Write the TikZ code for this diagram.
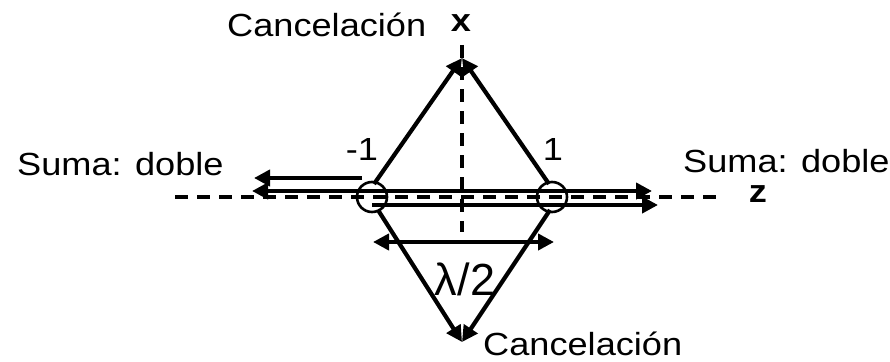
\documentclass[tikz,border=0pt]{standalone}
\usepackage{fontspec}
\setmainfont{Liberation Sans}
\usetikzlibrary{arrows.meta}
\begin{document}
\begin{tikzpicture}[x=1pt,y=-1pt,
  axis/.style={line width=3.5pt, dash pattern=on 13pt off 9pt},
  arr/.style={line width=4.2pt,-{Triangle[length=16pt,width=16pt]}},
  darr/.style={line width=4.2pt,{Triangle[length=16pt,width=16pt]}-{Triangle[length=16pt,width=16pt]}},
  ring/.style={line width=2.6pt},
  lbl/.style={font=\fontsize{32}{36}\selectfont, inner sep=0pt, xscale=1.13},
  big/.style={font=\fontsize{45}{50}\selectfont, inner sep=0pt},
]
\useasboundingbox (0,0) rectangle (890,361);

% coordinates
\coordinate (xtop) at (462,45);
\coordinate (xbot) at (462,232);
\coordinate (zl) at (175,197);
\coordinate (zr) at (722,197);
\coordinate (apexT) at (462,58);
\coordinate (apexB) at (462,342);
\coordinate (cl) at (372,197);
\coordinate (cr) at (552,197);
\coordinate (clT) at (374,184);
\coordinate (crT) at (549,184);
\coordinate (clB) at (378,210);
\coordinate (crB) at (550,210);
\coordinate (u0) at (252,191);
\coordinate (u1) at (652,191);
\coordinate (l0) at (372,205);
\coordinate (l1) at (658,205);
\coordinate (a0) at (362,178);
\coordinate (a1) at (254,178);
\coordinate (w0) at (373,242);
\coordinate (w1) at (554,242);

% axes
\draw[axis] (xtop) -- (xbot);
\draw[axis] (zl) -- (zr);

% circles
\draw[ring] (cl) circle[radius=15];
\draw[ring] (cr) circle[radius=15];

% rod and arrows
\draw[darr] (u0) -- (u1);
\draw[arr] (l0) -- (l1);
\draw[arr] (a0) -- (a1);

% triangles
\draw[arr] (clT) -- (apexT);
\draw[arr] (crT) -- (apexT);
\draw[arr] (clB) -- (apexB);
\draw[arr] (crB) -- (apexB);

% lambda/2 width
\draw[darr] (w0) -- (w1);

% labels
\node[lbl, anchor=base west] (c1) at (227,37) {Cancelación};
\node[lbl, anchor=base, font=\fontsize{32}{36}\selectfont\bfseries] (xl) at (461,32) {x};
\node[lbl, anchor=base west] (c2) at (483,355) {Cancelación};
\node[lbl, anchor=base west] (s1) at (17,175) {Suma: doble};
\node[lbl, anchor=base west] (s2) at (683,172) {Suma: doble};
\node[lbl, anchor=base, font=\fontsize{32}{36}\selectfont\bfseries] (zlab) at (758,202) {z};
\node[lbl, anchor=base] (m1) at (362,160) {-1};
\node[lbl, anchor=base] (p1) at (553,160) {1};
\node[big, anchor=base] (lam) at (465,295) {λ/2};
\end{tikzpicture}
\end{document}
